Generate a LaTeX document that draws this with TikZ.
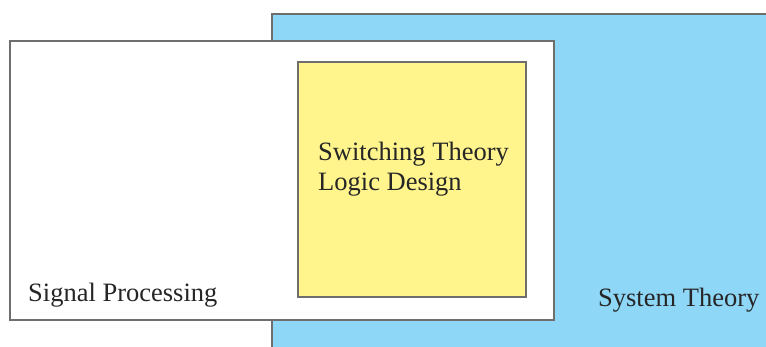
\documentclass[tikz,border=0pt]{standalone}
\usepackage{fontspec}
\setmainfont{Liberation Serif}
\usepackage{xcolor}
\definecolor{skyfill}{RGB}{143,215,247}
\definecolor{lemonfill}{RGB}{255,245,140}
\definecolor{edgegray}{RGB}{110,110,110}

\begin{document}
\begin{tikzpicture}[x=1pt, y=-1pt,
    field/.style={draw=edgegray, line width=1.3pt},
    label/.style={anchor=base west, font=\fontsize{26.5}{32}\selectfont, text=black!85, inner sep=0pt}]

    \clip (0,0) rectangle (766,347);
    \useasboundingbox (0,0) rectangle (766,347);

    % System theory
    \draw[field, fill=skyfill] (272,14) rectangle (780,360);

    % Signal processing
    \draw[field, fill=white] (10,41) rectangle (554,320);

    % Switching theory
    \draw[field, fill=lemonfill] (298,62) rectangle (526,297);

    % Labels
    \node[label] (sig) at (28,302) {Signal Processing};
    \node[label] (sys) at (598,307) {System Theory};
    \node[label] (swi) at (318,161) {Switching Theory};
    \node[label] (log) at (318,191) {Logic Design};
\end{tikzpicture}
\end{document}
